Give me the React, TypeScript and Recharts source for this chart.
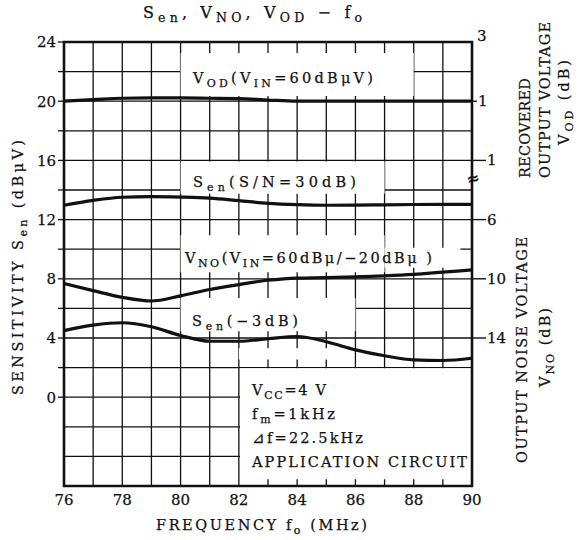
import React from 'react'
import { CartesianGrid, ComposedChart, Line, ReferenceArea, XAxis, YAxis } from 'recharts'

// Sen, VNO, VOD vs fo (datasheet style chart)

const FREQ = [76, 77, 78, 79, 80, 81, 82, 83, 84, 85, 86, 87, 88, 89, 90]
const VOD = [20.0, 20.1, 20.2, 20.22, 20.22, 20.2, 20.18, 20.08, 20.0, 20.0, 20.0, 20.0, 20.0, 20.0, 20.0]
const SEN_SN = [12.97, 13.3, 13.51, 13.55, 13.52, 13.45, 13.28, 13.1, 13.01, 12.97, 12.98, 13.0, 13.02, 13.03, 13.03]
const VNO = [7.68, 7.2, 6.75, 6.5, 6.85, 7.28, 7.61, 7.9, 8.05, 8.08, 8.13, 8.2, 8.3, 8.45, 8.6]
const SEN_3DB = [4.5, 4.87, 5.03, 4.76, 4.17, 3.78, 3.78, 3.95, 4.1, 3.75, 3.2, 2.8, 2.52, 2.48, 2.63]

const X_TICKS = [76, 78, 80, 82, 84, 86, 88, 90]
const LEFT_TICKS = [0, 2, 4, 6, 8, 10, 12, 14, 16, 18, 20, 22, 24]
const RIGHT_TICKS = [24, 20, 16, 12, 8, 4]
const RIGHT_LABELS = [3, 1, -1, -6, -10, -14]
const GRID_X = [77, 78, 79, 80, 81, 82, 83, 84, 85, 86, 87, 88, 89]
const GRID_Y = [-4, -2, 0, 2, 4, 6, 8, 10, 12, 14, 16, 18, 20, 22]

// white patches behind the in-plot labels (x1, x2, y1, y2)
// the legend patch stops a little above the bottom so the grid shows as tick stubs
const LABEL_BOXES = [
  [80, 88, 20.35, 23.25],
  [80, 87, 13.75, 15.92],
  [80, 87, 8.45, 10.95],
  [87, 89.6, 8.75, 10.1],
  [80, 86, 4.45, 6.7],
  [82, 85.5, 2.55, 3.3],
  [82.04, 90, -5.55, 1.95],
]

const FONT = "'DejaVu Serif', 'Liberation Serif', serif"
const INK = '#111'

type Part = { t: string; sub?: boolean }

function Rich({
  x,
  y,
  len,
  parts,
  size = 14.5,
  rotate = false,
}: {
  x: number
  y: number
  len?: number
  parts: Part[]
  size?: number
  rotate?: boolean
}) {
  let prevSub = false
  return (
    <text
      x={x}
      y={y}
      fontFamily={FONT}
      fontSize={size}
      fill={INK}
      stroke={INK}
      strokeWidth={0.25}
      textLength={len}
      lengthAdjust={len ? 'spacing' : undefined}
      transform={rotate ? `rotate(-90 ${x} ${y})` : undefined}
    >
      {parts.map((p, i) => {
        const sub = !!p.sub
        const dy = sub && !prevSub ? 4 : !sub && prevSub ? -4 : 0
        prevSub = sub
        return (
          <tspan key={i} dy={dy} fontSize={sub ? size - 3.5 : size}>
            {p.t}
          </tspan>
        )
      })}
    </text>
  )
}

function RightTick({ x, y, payload }: any) {
  const label = RIGHT_LABELS[RIGHT_TICKS.indexOf(payload.value)]
  if (label === undefined) return null
  if (label === 3) {
    return (
      <text x={x + 5} y={y - 1} fontFamily={FONT} fontSize={15} fill={INK} stroke={INK} strokeWidth={0.25}>
        3
      </text>
    )
  }
  const len = label < 0 ? 14 : 5
  return (
    <g>
      <line x1={x} x2={x + len} y1={y} y2={y} stroke={INK} strokeWidth={1.4} />
      <text x={x + len + 1} y={y + 5} fontFamily={FONT} fontSize={15} fill={INK} stroke={INK} strokeWidth={0.25}>
        {Math.abs(label)}
      </text>
    </g>
  )
}

export default function App() {
  const data = FREQ.map((f, i) => ({
    f,
    vod: VOD[i],
    senSn: SEN_SN[i],
    vno: VNO[i],
    sen3: SEN_3DB[i],
  }))

  const tickStyle = { fill: INK, fontSize: 15, fontFamily: FONT, stroke: INK, strokeWidth: 0.25 }

  return (
    <div style={{ position: 'absolute', left: 0, top: 0, width: 578, height: 540, background: '#fff' }}>
      <ComposedChart
        width={578}
        height={540}
        data={data}
        margin={{ top: 42, right: 66, bottom: 24, left: 34 }}
      >
        <CartesianGrid
          yAxisId="left"
          stroke={INK}
          strokeWidth={1.3}
          verticalValues={GRID_X}
          horizontalValues={GRID_Y}
        />
        <XAxis
          dataKey="f"
          type="number"
          domain={[76, 90]}
          ticks={X_TICKS}
          axisLine={false}
          tickLine={false}
          height={30}
          tick={tickStyle}
        />
        <YAxis
          yAxisId="left"
          type="number"
          domain={[-6, 24]}
          ticks={LEFT_TICKS}
          interval={0}
          width={30}
          axisLine={false}
          tickSize={6}
          tickLine={{ stroke: INK, strokeWidth: 1.3 }}
          tickFormatter={(v: number) => (v % 4 === 0 ? String(v) : '')}
          tick={tickStyle}
        />
        {/* VOD and VNO are read on the right (dB) scale */}
        <YAxis
          yAxisId="right"
          orientation="right"
          type="number"
          domain={[-6, 24]}
          ticks={RIGHT_TICKS}
          interval={0}
          width={40}
          axisLine={false}
          tickLine={false}
          tickSize={0}
          tickMargin={0}
          tick={<RightTick />}
        />
        {LABEL_BOXES.map(([x1, x2, y1, y2], i) => (
          <ReferenceArea
            key={i}
            yAxisId="left"
            x1={x1}
            x2={x2}
            y1={y1}
            y2={y2}
            fill="#fff"
            fillOpacity={1}
            stroke="none"
          />
        ))}
        <Line yAxisId="right" type="monotone" dataKey="vod" stroke={INK} strokeWidth={3.2} dot={false} isAnimationActive={false} />
        <Line yAxisId="left" type="monotone" dataKey="senSn" stroke={INK} strokeWidth={3.2} dot={false} isAnimationActive={false} />
        <Line yAxisId="right" type="monotone" dataKey="vno" stroke={INK} strokeWidth={3.2} dot={false} isAnimationActive={false} />
        <Line yAxisId="left" type="monotone" dataKey="sen3" stroke={INK} strokeWidth={3.2} dot={false} isAnimationActive={false} />
        <ReferenceArea
          yAxisId="left"
          x1={76}
          x2={90}
          y1={-6}
          y2={24}
          fill="none"
          stroke={INK}
          strokeWidth={2.6}
        />
      </ComposedChart>

      <svg
        width={578}
        height={540}
        style={{ position: 'absolute', left: 0, top: 0, pointerEvents: 'none' }}
      >
        <Rich
          x={143}
          y={18}
          len={219}
          size={16}
          parts={[
            { t: 'S' },
            { t: 'en', sub: true },
            { t: ', V' },
            { t: 'NO', sub: true },
            { t: ', V' },
            { t: 'OD', sub: true },
            { t: ' − f' },
            { t: 'o', sub: true },
          ]}
        />
        <Rich
          x={193}
          y={83}
          len={180}
          parts={[{ t: 'V' }, { t: 'OD', sub: true }, { t: '(V' }, { t: 'IN', sub: true }, { t: '=60dBμV)' }]}
        />
        <Rich x={193} y={187} len={163} parts={[{ t: 'S' }, { t: 'en', sub: true }, { t: '(S/N=30dB)' }]} />
        <Rich
          x={185}
          y={263}
          len={247}
          parts={[{ t: 'V' }, { t: 'NO', sub: true }, { t: '(V' }, { t: 'IN', sub: true }, { t: '=60dBμ/−20dBμ )' }]}
        />
        <Rich x={192} y={326} len={106} parts={[{ t: 'S' }, { t: 'en', sub: true }, { t: '(−3dB)' }]} />
        <Rich x={252} y={395} len={74} parts={[{ t: 'V' }, { t: 'CC', sub: true }, { t: '=4 V' }]} />
        <Rich x={252} y={419} len={83} parts={[{ t: 'f' }, { t: 'm', sub: true }, { t: '=1kHz' }]} />
        <Rich x={252} y={443} len={111} parts={[{ t: '⊿f=22.5kHz' }]} />
        <Rich x={252} y={467} len={215} parts={[{ t: 'APPLICATION CIRCUIT' }]} />

        <Rich
          x={156}
          y={530}
          len={211}
          parts={[{ t: 'FREQUENCY  f' }, { t: 'o', sub: true }, { t: '  (MHz)' }]}
        />
        <Rich
          x={23}
          y={395}
          len={255}
          rotate
          parts={[{ t: 'SENSITIVITY  S' }, { t: 'en', sub: true }, { t: '  (dBμV)' }]}
        />
        <Rich x={530} y={178} len={100} rotate parts={[{ t: 'RECOVERED' }]} />
        <Rich x={550} y={178} len={156} rotate parts={[{ t: 'OUTPUT VOLTAGE' }]} />
        <Rich x={569} y={145} len={85} rotate parts={[{ t: 'V' }, { t: 'OD', sub: true }, { t: ' (dB)' }]} />
        <Rich x={527} y={463} len={226} rotate parts={[{ t: 'OUTPUT NOISE VOLTAGE' }]} />
        <Rich x={550} y={387} len={79} rotate parts={[{ t: 'V' }, { t: 'NO', sub: true }, { t: ' (dB)' }]} />

        <text
          x={473}
          y={184}
          fontFamily={FONT}
          fontSize={16}
          fontWeight="bold"
          fill={INK}
          textAnchor="middle"
          transform="rotate(-15 473 178)"
        >
          ≈
        </text>
      </svg>
    </div>
  )
}
